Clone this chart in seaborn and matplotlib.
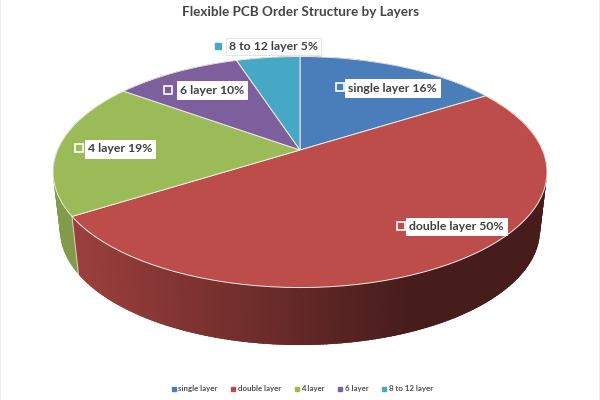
import numpy as np
import matplotlib
matplotlib.use("Agg")
import matplotlib.pyplot as plt
from matplotlib.transforms import Transform
from matplotlib.lines import Line2D
from matplotlib.colors import to_rgb
import seaborn as sns

# ---- data ----
categories = ["single layer", "double layer", "4 layer", "6 layer", "8 to 12 layer"]
shares = [16, 50, 19, 10, 5]
colors = ["#4a7ebb", "#bc4d4a", "#9bbb59", "#7d5f9e", "#46a8c4"]
title = "Flexible PCB Order Structure by Layers"

# ---- layout (pixels) ----
CX, TOP_CY, TOP_RX, TOP_RY, APEX_Y = 300, 172, 247, 115.5, 150
BOT_CY, BOT_RX, BOT_RY = 230, 240, 115
label_pos = [(348, 88), (409, 226.5), (88, 149), (180, 90), (229, 46.5)]
marker_pos = [(340, 87), (401, 226), (79, 148), (168, 90), (218, 46)]
K = (APEX_Y * -1 + TOP_CY) / TOP_RY

sns.set_theme(style="white")
plt.rcParams["font.family"] = ["Lato", "DejaVu Sans"]
palette = sns.color_palette(colors)


def project(u, v, cy=TOP_CY, rx=TOP_RX, ry=TOP_RY):
    """Unit pie circle -> tilted ellipse with perspective."""
    w = 1 + K * v
    x = CX + rx * np.sqrt(1 - K ** 2) * u / w
    y = cy - (ry * v + K * ry) / w
    return x, y


class Tilt(Transform):
    input_dims = output_dims = 2
    is_affine = False
    has_inverse = False

    def transform_non_affine(self, values):
        values = np.asarray(values, dtype=float)
        x, y = project(values[:, 0], values[:, 1])
        return np.column_stack([x, y])


fig, ax = plt.subplots(figsize=(6, 4), dpi=100)
fig.subplots_adjust(0, 0, 1, 1)

wedges, _ = ax.pie(shares, colors=palette, startangle=90, counterclock=False,
                   wedgeprops=dict(edgecolor="#efe9e4", linewidth=0.7, zorder=5))
ax.set_aspect("auto")
ax.set_xlim(0, 600)
ax.set_ylim(400, 0)
tilt = Tilt()
for w in wedges:
    w.set_transform(tilt + ax.transData)
    w.set_clip_on(False)

# side wall, built from the same shares; facets overlap to hide seams
edges = np.cumsum([0] + shares) / sum(shares) * 2 * np.pi
for i, (a0, a1) in enumerate(zip(edges[:-1], edges[1:])):
    base = np.array(to_rgb(colors[i]))
    steps = max(2, int((a1 - a0) / np.radians(0.7)))
    th = np.linspace(a0, a1, steps + 1)
    dt = th[1] - th[0]
    for t0 in th[:-1]:
        t1 = min(t0 + 2.5 * dt, a1)
        xt0, yt0 = project(np.sin(t0), np.cos(t0))
        xt1, yt1 = project(np.sin(t1), np.cos(t1))
        xb0, yb0 = project(np.sin(t0), np.cos(t0), BOT_CY, BOT_RX, BOT_RY)
        xb1, yb1 = project(np.sin(t1), np.cos(t1), BOT_CY, BOT_RX, BOT_RY)
        if i == 2:
            shade = 0.83
        else:
            pos = np.clip((xt0 - 80) / 330, 0, 1)
            shade = 0.82 - 0.44 * pos
        col = np.clip(base * shade, 0, 1)
        ax.fill([xt0, xt1, xb1, xb0], [yt0, yt1, yb1, yb0], color=col, lw=0, zorder=2)

# boundary on the wall between 4 layer and double layer
xa, ya = project(np.sin(edges[2]), np.cos(edges[2]))
xb, yb = project(np.sin(edges[2]), np.cos(edges[2]), BOT_CY, BOT_RX, BOT_RY)
ax.plot([xa, xb], [ya, yb], color="#d9d3b8", lw=0.7, zorder=3)

# data labels
for i, (cat, val) in enumerate(zip(categories, shares)):
    lx, ly = label_pos[i]
    mx, my = marker_pos[i]
    edge = "#e4e4e4" if i == 4 else "white"
    ax.text(lx, ly, f"{cat} {val}%", ha="left", va="center", fontsize=8.8,
            fontweight="bold", color="#404040", zorder=8,
            bbox=dict(boxstyle="square,pad=0.25", fc="white", ec=edge, lw=0.7))
    if i == 4:
        ax.plot([mx], [my], marker="s", ms=4.5, mfc=palette[i], mec=palette[i], zorder=9, ls="")
    else:
        ax.plot([mx], [my], marker="s", ms=5.5, mfc=palette[i], mec="white", mew=1.2, zorder=9, ls="")

# title
ax.text(300, 12, title, ha="center", va="center", fontsize=9.7, fontweight="bold", color="#454545")

# legend
handles = [Line2D([], [], marker="s", ls="", ms=2.4, color=c) for c in palette]
ax.legend(handles, categories, ncol=5, loc="center", bbox_to_anchor=(0.5025, 0.0275),
          frameon=False, prop=dict(size=5.7, weight="bold"), labelcolor="#505050",
          handletextpad=0.1, columnspacing=1.45, handlelength=1.0, borderpad=0)

# faint picture edge
for x in (0.4, 599):
    ax.axvline(x, color="#ececec", lw=1)

fig.savefig("out.png", dpi=100, facecolor="white")
